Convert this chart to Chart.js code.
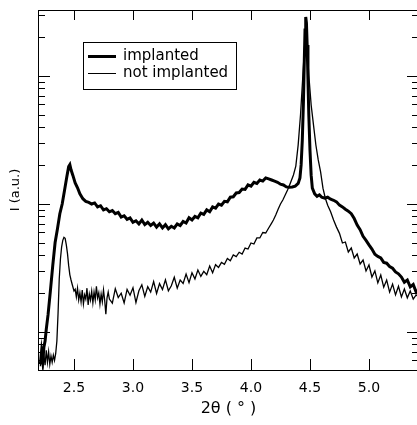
<!DOCTYPE html>
<html lang="en">
<head>
<meta charset="UTF-8">
<title>XRD: implanted vs not implanted</title>
<script src="https://cdn.jsdelivr.net/npm/chart.js"></script>
<style>
    html, body { margin: 0; padding: 0; background: #fff; overflow: hidden; }
    #wrap { width: 420px; height: 425px; }
</style>
</head>
<body>
<div id="wrap"><canvas id="xrd" width="420" height="425"></canvas></div>
<script>
// 2theta (deg) and intensity (a.u.)
const implantedX = [2.215, 2.225, 2.235, 2.245, 2.255, 2.265, 2.28, 2.30, 2.32, 2.34, 2.36, 2.38, 2.40, 2.42, 2.44, 2.455, 2.465, 2.475, 2.49,
    2.51, 2.53, 2.55, 2.575, 2.60, 2.625, 2.65, 2.675, 2.70, 2.725, 2.75, 2.775, 2.80, 2.825, 2.85, 2.875, 2.90, 2.925, 2.95, 2.975,
    3.00, 3.025, 3.05, 3.075, 3.10, 3.125, 3.15, 3.175, 3.20, 3.225, 3.25, 3.275, 3.30, 3.325, 3.35, 3.375, 3.40, 3.425, 3.45, 3.475,
    3.50, 3.525, 3.55, 3.575, 3.60, 3.625, 3.65, 3.675, 3.70, 3.725, 3.75, 3.775, 3.80, 3.825, 3.85, 3.875, 3.90, 3.925, 3.95, 3.975,
    4.00, 4.025, 4.05, 4.075, 4.10, 4.125, 4.15, 4.175, 4.20, 4.225, 4.25, 4.275, 4.30, 4.325, 4.35, 4.375, 4.40, 4.415, 4.425, 4.435,
    4.445, 4.452, 4.458, 4.464, 4.470, 4.476, 4.483, 4.49, 4.50, 4.51, 4.52, 4.54, 4.56, 4.58, 4.60, 4.625, 4.65, 4.675, 4.70, 4.725,
    4.75, 4.775, 4.80, 4.825, 4.85, 4.875, 4.90, 4.925, 4.95, 4.975, 5.00, 5.025, 5.05, 5.075, 5.10, 5.125, 5.15, 5.175, 5.20, 5.225,
    5.25, 5.275, 5.30, 5.325, 5.35, 5.375, 5.40, 5.425];
const implantedI = [5.6, 7.0, 5.9, 7.6, 8.5, 10.5, 13.6, 21, 33, 50, 64, 84, 100, 128, 165, 196, 203, 185, 168,
    146, 134, 120, 110, 105, 103, 100, 102, 95, 97, 90, 92, 87, 89, 84, 86, 79, 81, 76, 78,
    72, 74, 70, 75, 69, 72, 68, 71, 66, 70, 65, 69, 64, 67, 65, 70, 68, 73, 71, 78,
    75, 80, 78, 85, 83, 90, 87, 95, 93, 100, 98, 105, 104, 113, 114, 122, 123, 131, 130, 141,
    138, 148, 145, 154, 151, 160, 157, 154, 151, 148, 143, 141, 136, 135, 136, 138, 145, 160, 202, 316,
    650, 1330, 2290, 2890, 2600, 1750, 930, 500, 264, 168, 133, 120, 115, 118, 113, 111, 113, 109, 107, 104,
    98, 95, 91, 88, 84, 77, 68.5, 63, 56, 52, 48, 44.5, 40.5, 39, 38, 35, 34.5, 32.5, 31.5, 29.5,
    28.5, 26.9, 24.5, 25.5, 22.5, 23.5, 20.5, 21.5];

const notImplantedX = [2.215, 2.225, 2.235, 2.245, 2.255, 2.265, 2.275, 2.285, 2.295, 2.305, 2.315, 2.325, 2.335, 2.345, 2.355, 2.365,
    2.375, 2.385, 2.395, 2.405, 2.415, 2.425, 2.435, 2.445, 2.455, 2.465, 2.475, 2.485, 2.50, 2.51, 2.52, 2.53, 2.54, 2.55, 2.56, 2.57,
    2.58, 2.59, 2.60, 2.61, 2.62, 2.63, 2.64, 2.65, 2.66, 2.67, 2.68, 2.69, 2.70, 2.71, 2.72, 2.73, 2.74, 2.75, 2.76, 2.77, 2.78, 2.79,
    2.80, 2.825, 2.85, 2.875, 2.90, 2.925, 2.95, 2.975, 3.00, 3.025, 3.05, 3.075, 3.10, 3.125, 3.15, 3.175, 3.20, 3.225, 3.25, 3.275,
    3.30, 3.325, 3.35, 3.375, 3.40, 3.425, 3.45, 3.475, 3.50, 3.525, 3.55, 3.575, 3.60, 3.625, 3.65, 3.675, 3.70, 3.725, 3.75, 3.775,
    3.80, 3.825, 3.85, 3.875, 3.90, 3.925, 3.95, 3.975, 4.00, 4.025, 4.05, 4.075, 4.10, 4.125, 4.15, 4.175, 4.19, 4.21, 4.23, 4.25,
    4.27, 4.29, 4.31, 4.33, 4.36, 4.38, 4.40, 4.42, 4.44, 4.455, 4.465, 4.475, 4.49, 4.51, 4.53, 4.55, 4.57, 4.59, 4.61, 4.63,
    4.65, 4.675, 4.70, 4.725, 4.75, 4.775, 4.80, 4.825, 4.85, 4.875, 4.90, 4.925, 4.95, 4.975, 5.00, 5.025, 5.05, 5.075, 5.10, 5.125,
    5.15, 5.175, 5.20, 5.225, 5.25, 5.275, 5.30, 5.325, 5.35, 5.375, 5.40, 5.425];
const notImplantedI = [5.4, 7.0, 5.2, 6.6, 5.5, 7.2, 5.8, 7.0, 5.6, 6.5, 5.8, 6.6, 6.0, 6.8, 8.5, 14,
    26, 37, 46, 52, 55, 54, 48, 41, 33, 28, 25.5, 23.5, 20.9, 21.6, 18.8, 22, 17.8, 20.2, 17.2, 21.3,
    16.6, 19.5, 18.1, 22, 16.3, 19.8, 17.8, 20.9, 16.9, 20.5, 17.8, 22.8, 18.5, 20.2, 16.5, 19.8, 17.2, 21.3, 17.8, 13.8, 18.5, 20.5,
    18.1, 16.8, 21.8, 18.6, 20.1, 16.9, 21.5, 19.4, 22.2, 17.0, 21.0, 23.4, 19.0, 22.6, 20.5, 24.8, 20.0, 23.9, 21.5, 25.6,
    21.0, 23.0, 26.8, 22.0, 25.5, 24.0, 28.4, 24.3, 29.0, 26.0, 30.5, 27.2, 29.8, 28.0, 32.8, 29.0, 33.6, 32.0, 35.0, 33.8,
    37.6, 36.0, 40.0, 38.8, 42.0, 40.7, 45.3, 44.5, 49.6, 48.7, 54.3, 54.3, 59.9, 59.4, 65, 71, 75, 82, 91, 100,
    107.5, 117.6, 128.6, 143, 168.5, 198, 290, 500, 1020, 1750, 2100, 1750, 1020, 594, 414, 289, 221, 178, 133, 111,
    98, 87, 75, 66, 59, 49.6, 50.5, 42.2, 45.3, 37.9, 40.7, 34, 36.5, 30, 33.4, 26.9, 30, 24.2, 27.9, 22.4,
    25.5, 20.5, 23.7, 19.5, 22.8, 18.8, 21.7, 18.5, 20.9, 18.1, 19.5, 18.5];

const seriesLabels = ['implanted', 'not implanted'];
const xTicks = [2.5, 3.0, 3.5, 4.0, 4.5, 5.0];
const xTickLabels = ['2.5', '3.0', '3.5', '4.0', '4.5', '5.0'];
const yDecades = [1, 10, 100, 1000];

const FONT = 'DejaVu Sans';

function toPoints(xs, ys) {
    return xs.map((x, i) => ({ x: x, y: ys[i] }));
}

// box around the plot plus inward ticks on every side
const frameTicks = {
    id: 'frameTicks',
    afterDraw(chart) {
        const { ctx, chartArea: a, scales } = chart;
        const xs = scales.x, ys = scales.y;
        ctx.save();
        ctx.strokeStyle = '#000';
        ctx.lineWidth = 1;
        ctx.strokeRect(a.left + 0.5, a.top + 0.5, a.right - a.left, a.bottom - a.top);
        ctx.beginPath();
        xTicks.forEach(v => {
            const px = Math.round(xs.getPixelForValue(v)) + 0.5;
            ctx.moveTo(px, a.bottom); ctx.lineTo(px, a.bottom - 11);
            ctx.moveTo(px, a.top); ctx.lineTo(px, a.top + 10);
        });
        yDecades.forEach(d => {
            for (let m = 1; m < 10; m++) {
                const v = d * m;
                if (v < ys.min || v > ys.max) continue;
                const py = Math.round(ys.getPixelForValue(v)) + 0.5;
                const len = m === 1 ? 12 : 7;
                ctx.moveTo(a.left, py); ctx.lineTo(a.left + len, py);
                ctx.moveTo(a.right, py); ctx.lineTo(a.right - len, py);
            }
        });
        ctx.stroke();
        ctx.restore();
    }
};

// legend drawn as a framed box inside the plot
const boxLegend = {
    id: 'boxLegend',
    afterDraw(chart) {
        const ctx = chart.ctx;
        ctx.save();
        ctx.fillStyle = '#fff';
        ctx.fillRect(83, 42, 153, 47);
        ctx.strokeStyle = '#000';
        ctx.lineWidth = 1;
        ctx.strokeRect(83.5, 42.5, 153, 47);
        ctx.font = '15px "' + FONT + '"';
        ctx.textBaseline = 'middle';
        ctx.fillStyle = '#000';
        chart.data.datasets.forEach((ds, i) => {
            const y = 56 + i * 17;
            ctx.lineWidth = i === 0 ? 3 : 1;
            ctx.beginPath();
            ctx.moveTo(88, y + 0.5);
            ctx.lineTo(116, y + 0.5);
            ctx.stroke();
            ctx.fillText(ds.label, 123, y);
        });
        ctx.restore();
    }
};

const ctx = document.getElementById('xrd').getContext('2d');
new Chart(ctx, {
    type: 'line',
    data: {
        datasets: [{
            label: seriesLabels[0],
            data: toPoints(implantedX, implantedI),
            borderColor: '#000',
            borderWidth: 3,
            pointRadius: 0,
            tension: 0
        }, {
            label: seriesLabels[1],
            data: toPoints(notImplantedX, notImplantedI),
            borderColor: '#000',
            borderWidth: 1.3,
            pointRadius: 0,
            tension: 0
        }]
    },
    options: {
        responsive: false,
        animation: false,
        devicePixelRatio: 1,
        layout: { padding: { top: 10, right: 1, left: 0, bottom: 0 } },
        plugins: { legend: { display: false }, tooltip: { enabled: false } },
        scales: {
            x: {
                type: 'linear',
                min: 2.195,
                max: 5.424,
                grid: { display: false, drawTicks: false },
                border: { display: false },
                afterBuildTicks: s => { s.ticks = xTicks.map(v => ({ value: v })); },
                afterFit: s => { s.height = 55; },
                ticks: {
                    autoSkip: false,
                    maxRotation: 0,
                    padding: 10,
                    color: '#000',
                    font: { family: FONT, size: 14 },
                    callback: (v, i) => xTickLabels[i]
                },
                title: {
                    display: true,
                    text: '2θ ( ° )',
                    color: '#000',
                    font: { family: FONT, size: 16 },
                    padding: { top: 0, bottom: 7 }
                }
            },
            y: {
                type: 'logarithmic',
                min: 5.05,
                max: 3280,
                grid: { display: false, drawTicks: false },
                border: { display: false },
                ticks: { display: false },
                afterFit: s => { s.width = 38; },
                title: {
                    display: true,
                    text: 'I (a.u.)',
                    color: '#000',
                    font: { family: FONT, size: 13 },
                    padding: { top: 8, bottom: 0 }
                }
            }
        }
    },
    plugins: [frameTicks, boxLegend]
});
</script>
</body>
</html>
